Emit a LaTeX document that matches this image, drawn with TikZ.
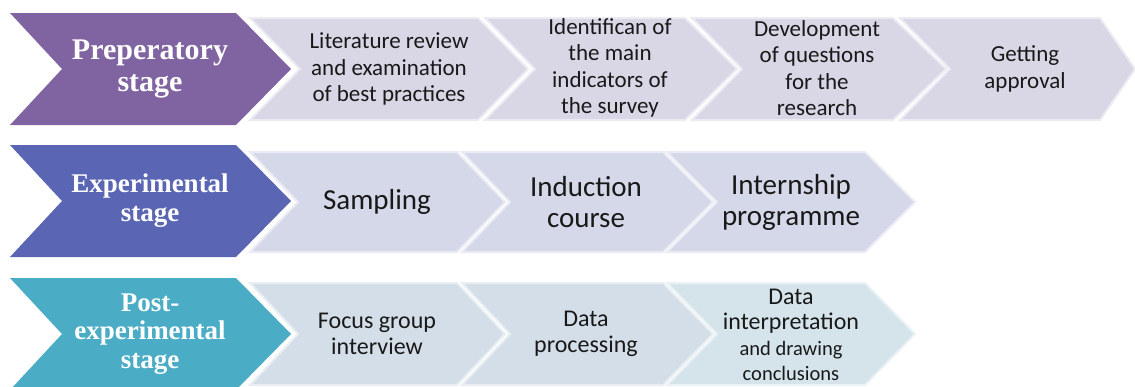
\documentclass[tikz,border=0pt]{standalone}
\usepackage{fontspec}
\newfontfamily\calibri{Carlito}
\newfontfamily\serifb{Liberation Serif}
\newcommand\stagefont{\serifb\bfseries}
\definecolor{purpleC}{HTML}{8064A2}
\definecolor{blueC}{HTML}{5A66B3}
\definecolor{tealC}{HTML}{4BACC6}
\definecolor{grayA}{HTML}{D9D6E5}
\definecolor{grayB}{HTML}{D5D8E9}
\definecolor{grayC}{HTML}{D3DEE8}
\definecolor{grayD}{HTML}{D5E4EB}
% #1 style, #2 left x, #3 notch x, #4 top-right x, #5 tip x, #6 centre y, #7 half height
\newcommand\chev[7]{\path[#1] (#2,#6-#7) -- (#4,#6-#7) -- (#5,#6) -- (#4,#6+#7) -- (#2,#6+#7) -- (#3,#6) -- cycle;}
\begin{document}
\begin{tikzpicture}[x=1pt,y=-1pt,
  stagechev/.style={fill=#1},
  stepchev/.style={fill=#1, draw=#1!50!white, line width=2pt},
  stagetxt/.style={text=white, align=center, inner sep=0pt},
  steptxt/.style={text=black!90, align=center, inner sep=0pt}]
\useasboundingbox (0,0) rectangle (1135,386);
\clip (0,0) rectangle (1135,386);
% ---------- row 1 ----------
\chev{stagechev=purpleC}{10}{62}{236}{291}{69}{56}
\chev{stepchev=grayA}{250}{300}{478}{528}{69}{51}
\chev{stepchev=grayA}{485}{535}{685}{737}{69}{51}
\chev{stepchev=grayA}{692}{742}{893}{946}{69}{51}
\chev{stepchev=grayA}{900}{950}{1100}{1135}{69}{51}
% ---------- row 2 ----------
\chev{stagechev=blueC}{10}{62}{236}{291}{201}{56}
\chev{stepchev=grayB}{250}{298}{457}{505}{202}{50}
\chev{stepchev=grayB}{462}{510}{663}{713}{202}{50}
\chev{stepchev=grayB}{667}{717}{865}{915}{202}{50}
% ---------- row 3 ----------
\chev{stagechev=tealC}{10}{62}{236}{291}{334}{56}
\chev{stepchev=grayC}{250}{298}{457}{505}{334}{51}
\chev{stepchev=grayC}{462}{510}{663}{713}{334}{51}
\chev{stepchev=grayD}{667}{717}{865}{915}{334}{51}
% ---------- texts ----------
\node[stagetxt, font={\stagefont\fontsize{30}{32}\selectfont}] (s1) at (150,69) {Preperatory\\stage};
\node[stagetxt, font={\stagefont\fontsize{27}{29}\selectfont}] (s2) at (150,201) {Experimental\\stage};
\node[stagetxt, font={\stagefont\fontsize{27}{28.5}\selectfont}] (s3) at (150,334) {Post-\\experimental\\stage};
%
\node[steptxt, font={\calibri\fontsize{23}{26.5}\selectfont}] (t11) at (389,69) {Literature review\\and examination\\of best practices};
\node[steptxt, font={\calibri\fontsize{23}{26.5}\selectfont}] (t12) at (610,68) {Identifican of\\the main\\indicators of\\the survey};
\node[steptxt, font={\calibri\fontsize{23}{26.5}\selectfont}] (t13) at (817,68) {Development\\of questions\\for the\\research};
\node[steptxt, font={\calibri\fontsize{23}{26.5}\selectfont}] (t14) at (1025,69) {Getting\\approval};
%
\node[steptxt, font={\calibri\fontsize{29}{31}\selectfont}] (t21) at (377,202) {Sampling};
\node[steptxt, font={\calibri\fontsize{29}{31}\selectfont}] (t22) at (586,202) {Induction\\course};
\node[steptxt, font={\calibri\fontsize{29}{31}\selectfont}] (t23) at (791,202) {Internship\\programme};
%
\node[steptxt, font={\calibri\fontsize{24}{25.5}\selectfont}] (t31) at (377,334) {Focus group\\interview};
\node[steptxt, font={\calibri\fontsize{24}{25.5}\selectfont}] (t32) at (586,334) {Data\\processing};
\node[steptxt, font={\calibri\fontsize{24}{25.5}\selectfont}] (t33) at (791,335) {Data\\interpretation\\{\fontsize{20.5}{25.5}\selectfont and drawing}\\{\fontsize{20.5}{25.5}\selectfont conclusions}};
\end{tikzpicture}
\end{document}
